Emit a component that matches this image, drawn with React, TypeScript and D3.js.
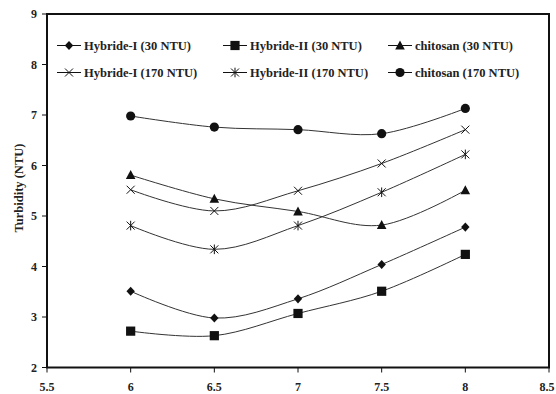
import React, { useEffect } from 'react'
import * as d3 from 'd3'

// pH values on the x axis
const phValues = [6, 6.5, 7, 7.5, 8]

// turbidity (NTU)
const hybride1_30 = [3.51, 2.98, 3.36, 4.04, 4.78]
const hybride2_30 = [2.72, 2.63, 3.07, 3.51, 4.24]
const chitosan_30 = [5.81, 5.34, 5.09, 4.82, 5.51]
const hybride1_170 = [5.52, 5.1, 5.5, 6.04, 6.71]
const hybride2_170 = [4.81, 4.34, 4.81, 5.47, 6.22]
const chitosan_170 = [6.98, 6.76, 6.71, 6.63, 7.13]

const xTicks = [5.5, 6, 6.5, 7, 7.5, 8, 8.5]
const yTicks = [2, 3, 4, 5, 6, 7, 8, 9]

const seriesNames = [
  'Hybride-I (30 NTU)',
  'Hybride-II (30 NTU)',
  'chitosan (30 NTU)',
  'Hybride-I (170 NTU)',
  'Hybride-II (170 NTU)',
  'chitosan (170 NTU)'
]
const seriesValues = [hybride1_30, hybride2_30, chitosan_30, hybride1_170, hybride2_170, chitosan_170]
const seriesMarkers = ['diamond', 'square', 'triangle', 'x', 'asterisk', 'circle']

const W = 556
const H = 394
const left = 47
const right = 549
const top = 14
const bottom = 367.5
const ink = '#111'
const font = '"Liberation Serif", "Times New Roman", serif'

const x = d3.scaleLinear().domain([5.5, 8.5]).range([left, right])
const y = d3.scaleLinear().domain([2, 9]).range([bottom, top])

const line = d3.line<number>()
  .curve(d3.curveCardinal.tension(0))

function Marker ({ kind, cx, cy }: { kind: string, cx: number, cy: number }) {
  const t = `translate(${cx},${cy})`
  if (kind === 'diamond') return <path transform={t} d='M0,-4.6L4.2,0L0,4.6L-4.2,0Z' fill={ink} />
  if (kind === 'square') return <rect x={cx - 4.6} y={cy - 4.6} width={9.2} height={9.2} fill={ink} />
  if (kind === 'triangle') return <path transform={t} d='M0,-5L4.8,4L-4.8,4Z' fill={ink} />
  if (kind === 'circle') return <circle cx={cx} cy={cy} r={4.6} fill={ink} />
  if (kind === 'x') return <path transform={t} d='M-4,-4L4,4M-4,4L4,-4' stroke={ink} strokeWidth={1} fill='none' />
  return <path transform={t} d='M-4,-4L4,4M-4,4L4,-4M0,-4.8L0,4.8' stroke={ink} strokeWidth={1} fill='none' />
}

export default function App () {
  useEffect(() => {
    document.body.style.margin = '0'
  }, [])

  const legendCols = [57, 223, 388]
  const legendRows = [45.5, 72.5]

  return (
    <svg width={W} height={H} style={{ display: 'block', background: '#fff' }} fontFamily={font}>
      {/* series */}
      {seriesValues.map((vals, i) => (
        <g key={seriesNames[i]}>
          <path
            d={line.x((_, j) => x(phValues[j])).y(d => y(d))(vals) || ''}
            fill='none' stroke='#333' strokeWidth={1}
          />
          {vals.map((v, j) => (
            <Marker key={j} kind={seriesMarkers[i]} cx={x(phValues[j])} cy={y(v)} />
          ))}
        </g>
      ))}

      {/* frame */}
      <rect x={left} y={top} width={right - left} height={bottom - top} fill='none' stroke={ink} strokeWidth={2} />

      {/* y axis */}
      {yTicks.map(t => (
        <g key={t}>
          <line x1={left - 5} x2={left} y1={y(t)} y2={y(t)} stroke={ink} strokeWidth={1} />
          <text x={37} y={y(t)} dy='0.35em' textAnchor='end' fontSize={12} fontWeight='bold' fill='#222'>{t}</text>
        </g>
      ))}
      {/* x axis */}
      {xTicks.map(t => (
        <g key={t}>
          <line x1={x(t)} x2={x(t)} y1={bottom} y2={bottom + 5} stroke={ink} strokeWidth={1} />
          <text x={Math.min(x(t), W - 9)} y={391} textAnchor='middle' fontSize={12} fontWeight='bold' fill='#222'>{t}</text>
        </g>
      ))}
      <text transform='translate(19,188) rotate(-90)' textAnchor='middle' dy='0.35em' fontSize={12.5} fontWeight='bold' fill='#222'>
        Turbidity (NTU)
      </text>

      {/* legend */}
      {seriesNames.map((name, i) => {
        const lx = legendCols[i % 3]
        const ly = legendRows[Math.floor(i / 3)]
        return (
          <g key={name}>
            <line x1={lx} x2={lx + 24} y1={ly} y2={ly} stroke={ink} strokeWidth={1} />
            <Marker kind={seriesMarkers[i]} cx={lx + 12} cy={ly} />
            <text x={lx + 27} y={ly} dy='0.35em' fontSize={12.5} fontWeight='bold' fill='#222'>{name}</text>
          </g>
        )
      })}
    </svg>
  )
}
